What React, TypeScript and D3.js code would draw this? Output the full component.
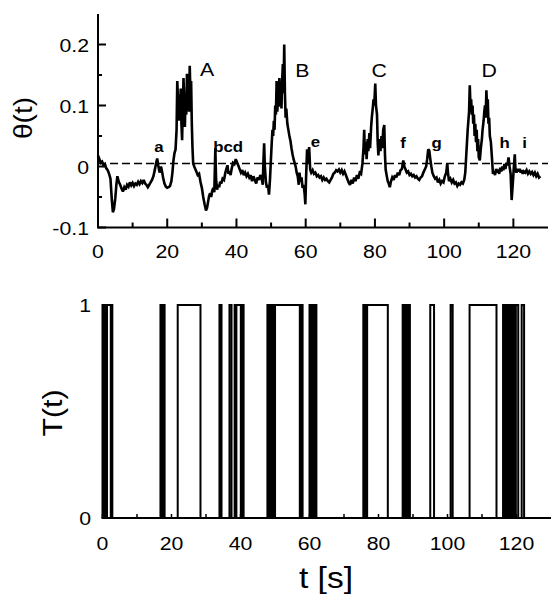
import React, { useRef, useEffect } from 'react'
import * as d3 from 'd3'

// theta(t): time [s], value
const theta: [number, number][] = [
  [0, 0.018], [0.4, 0.012], [0.8, 0.006], [1.2, 0.008], [1.6, 0.002], [2.0, 0.004], [2.4, -0.003],
  [2.8, -0.006], [3.2, -0.012], [3.6, -0.02], [4.0, -0.055], [4.3, -0.075], [4.6, -0.07], [5.0, -0.052],
  [5.3, -0.03], [5.6, -0.016], [6.0, -0.025], [6.4, -0.03], [6.8, -0.036], [7.2, -0.041], [7.6, -0.034],
  [8.0, -0.038], [8.4, -0.03], [8.8, -0.033], [9.2, -0.026], [9.6, -0.031], [10.0, -0.027], [10.4, -0.032],
  [10.8, -0.028], [11.2, -0.03], [11.6, -0.025], [12.0, -0.029], [12.4, -0.024], [12.8, -0.027],
  [13.2, -0.022], [13.6, -0.028], [14.0, -0.03], [14.4, -0.034], [14.8, -0.03], [15.2, -0.026],
  [15.6, -0.022], [16.0, -0.016], [16.4, -0.006], [16.8, 0.006], [17.1, 0.013], [17.4, 0.002],
  [17.8, -0.01], [18.2, 0.0], [18.5, -0.008], [18.8, -0.018], [19.2, -0.028], [19.6, -0.033],
  [20.0, -0.035], [20.4, -0.034], [20.8, -0.032], [21.2, -0.024], [21.5, -0.01], [21.8, 0.01],
  [22.1, 0.022], [22.4, 0.028], [22.7, 0.06], [22.9, 0.14], [23.1, 0.11], [23.3, 0.075], [23.5, 0.118],
  [23.7, 0.09], [23.9, 0.128], [24.1, 0.07], [24.3, 0.043], [24.5, 0.1], [24.7, 0.145], [24.9, 0.11],
  [25.1, 0.065], [25.3, 0.12], [25.5, 0.085], [25.7, 0.152], [25.9, 0.1], [26.1, 0.13], [26.3, 0.09],
  [26.5, 0.165], [26.7, 0.12], [26.9, 0.14], [27.1, 0.07], [27.3, 0.03], [27.5, 0.005], [27.8, 0.0],
  [28.1, -0.004], [28.4, -0.008], [28.8, -0.014], [29.2, -0.012], [29.6, -0.025], [30.0, -0.035],
  [30.4, -0.05], [30.8, -0.062], [31.2, -0.072], [31.5, -0.068], [31.8, -0.058], [32.1, -0.048],
  [32.4, -0.044], [32.7, -0.05], [33.0, -0.04], [33.3, -0.035], [33.6, -0.042], [33.9, 0.03],
  [34.1, -0.02], [34.4, -0.038], [34.7, -0.03], [35.0, -0.034], [35.3, -0.025], [35.6, -0.028],
  [36.0, -0.02], [36.4, -0.022], [36.8, -0.01], [37.1, -0.004], [37.4, 0.002], [37.7, -0.012],
  [38.0, -0.008], [38.3, -0.014], [38.6, -0.004], [39.0, 0.006], [39.4, 0.004], [39.8, 0.012],
  [40.1, 0.008], [40.5, 0.002], [40.9, -0.004], [41.3, -0.01], [41.7, -0.006], [42.1, -0.014],
  [42.5, -0.01], [42.9, -0.016], [43.3, -0.012], [43.7, -0.018], [44.1, -0.014], [44.5, -0.024],
  [44.9, -0.016], [45.3, -0.022], [45.7, -0.028], [46.1, -0.018], [46.5, -0.022], [46.9, -0.014],
  [47.3, -0.02], [47.6, -0.03], [47.8, 0.01], [48.0, 0.038], [48.2, 0.0], [48.5, -0.025], [48.8, -0.035],
  [49.1, -0.03], [49.4, -0.046], [49.7, -0.02], [49.9, 0.005], [50.2, 0.04], [50.4, 0.06], [50.6, 0.05],
  [50.8, 0.075], [51.0, 0.06], [51.2, 0.1], [51.4, 0.085], [51.6, 0.14], [51.8, 0.09], [52.0, 0.115],
  [52.2, 0.098], [52.4, 0.145], [52.6, 0.11], [52.8, 0.125], [53.0, 0.095], [53.2, 0.14], [53.4, 0.168],
  [53.6, 0.12], [53.8, 0.2], [54.0, 0.12], [54.2, 0.08], [54.4, 0.095], [54.7, 0.07], [55.0, 0.06],
  [55.3, 0.05], [55.6, 0.042], [55.9, 0.03], [56.2, 0.02], [56.5, 0.012], [56.8, 0.006], [57.1, 0.0],
  [57.4, -0.01], [57.7, -0.016], [58.0, -0.03], [58.2, -0.01], [58.5, -0.025], [58.8, -0.018],
  [59.1, -0.035], [59.4, -0.03], [59.7, -0.045], [59.9, -0.062], [60.1, -0.02], [60.4, 0.028],
  [60.7, 0.005], [61.0, 0.032], [61.3, -0.005], [61.6, -0.01], [62.0, -0.006], [62.4, -0.012],
  [62.8, -0.01], [63.2, -0.016], [63.6, -0.014], [64.0, -0.018], [64.4, -0.016], [64.8, -0.022],
  [65.2, -0.018], [65.6, -0.022], [66.0, -0.02], [66.4, -0.024], [66.8, -0.026], [67.2, -0.022],
  [67.6, -0.018], [68.0, -0.012], [68.4, -0.01], [68.8, -0.006], [69.2, -0.008], [69.6, -0.005],
  [70.0, -0.01], [70.4, -0.006], [70.8, -0.012], [71.2, -0.008], [71.6, -0.014], [72.0, -0.02],
  [72.4, -0.026], [72.8, -0.03], [73.2, -0.022], [73.6, -0.028], [74.0, -0.018], [74.4, -0.024],
  [74.8, -0.014], [75.2, -0.02], [75.6, -0.01], [76.0, -0.012], [76.4, 0.005], [76.7, 0.03],
  [76.9, 0.06], [77.1, 0.02], [77.4, 0.04], [77.6, 0.012], [77.9, 0.045], [78.1, 0.025], [78.4, 0.055],
  [78.6, 0.03], [78.9, 0.065], [79.1, 0.08], [79.4, 0.097], [79.6, 0.11], [79.8, 0.1], [80.1, 0.136],
  [80.3, 0.1], [80.6, 0.085], [80.8, 0.04], [81.0, 0.018], [81.3, 0.045], [81.6, 0.025], [81.9, 0.05],
  [82.1, 0.03], [82.4, 0.06], [82.7, 0.068], [82.9, 0.02], [83.1, -0.005], [83.4, -0.015],
  [83.7, -0.024], [84.0, -0.028], [84.3, -0.034], [84.6, -0.025], [85.0, -0.018], [85.4, -0.022],
  [85.8, -0.014], [86.2, -0.018], [86.6, -0.01], [87.0, -0.014], [87.4, -0.006], [87.8, -0.004],
  [88.2, 0.01], [88.5, 0.0], [88.8, -0.004], [89.2, -0.01], [89.6, -0.008], [90.0, -0.014],
  [90.4, -0.012], [90.8, -0.016], [91.2, -0.014], [91.6, -0.018], [92.0, -0.016], [92.4, -0.02],
  [92.8, -0.022], [93.2, -0.018], [93.6, -0.016], [94.0, -0.01], [94.4, -0.005], [94.8, 0.0],
  [95.1, 0.012], [95.4, 0.028], [95.7, 0.026], [96.0, 0.012], [96.3, 0.0], [96.6, -0.01], [97.0, -0.016],
  [97.4, -0.02], [97.8, -0.018], [98.2, -0.026], [98.6, -0.022], [99.0, -0.028], [99.4, -0.024],
  [99.8, -0.026], [100.2, -0.016], [100.6, -0.01], [100.9, 0.005], [101.1, -0.01], [101.4, -0.024],
  [101.8, -0.02], [102.2, -0.026], [102.6, -0.022], [103.0, -0.028], [103.4, -0.026], [103.8, -0.032],
  [104.2, -0.028], [104.6, -0.03], [105.0, -0.026], [105.4, -0.028], [105.8, -0.022], [106.1, -0.01],
  [106.4, 0.02], [106.6, 0.04], [106.8, 0.06], [107.0, 0.075], [107.2, 0.09], [107.4, 0.133],
  [107.6, 0.1], [107.8, 0.11], [108.0, 0.085], [108.2, 0.1], [108.4, 0.07], [108.6, 0.085],
  [108.8, 0.05], [109.0, 0.07], [109.2, 0.04], [109.4, 0.06], [109.6, 0.025], [109.8, 0.045],
  [110.0, 0.015], [110.3, 0.01], [110.6, 0.03], [110.9, 0.045], [111.1, 0.06], [111.4, 0.075],
  [111.6, 0.09], [111.8, 0.1], [112.0, 0.08], [112.2, 0.125], [112.4, 0.095], [112.6, 0.11],
  [112.8, 0.07], [113.0, 0.08], [113.2, 0.05], [113.5, 0.04], [113.8, 0.015], [114.1, -0.012],
  [114.4, -0.008], [114.7, -0.014], [115.0, -0.004], [115.3, -0.01], [115.6, -0.005], [115.9, -0.012],
  [116.2, -0.002], [116.5, -0.008], [116.8, 0.0], [117.1, -0.006], [117.4, 0.004], [117.7, -0.004],
  [118.0, 0.006], [118.3, 0.002], [118.6, 0.015], [118.9, 0.0], [119.2, -0.012], [119.5, -0.055],
  [119.8, -0.03], [120.1, -0.004], [120.4, 0.02], [120.6, -0.005], [120.9, -0.01], [121.2, -0.004],
  [121.5, -0.008], [121.8, -0.004], [122.1, -0.01], [122.4, -0.006], [122.7, -0.012], [123.0, -0.008],
  [123.4, -0.01], [123.8, -0.006], [124.2, -0.012], [124.6, -0.008], [125.0, -0.012], [125.4, -0.009],
  [125.8, -0.014], [126.2, -0.01], [126.6, -0.016], [127.0, -0.012], [127.4, -0.018], [127.8, -0.016],
]

const thetaThreshold = 0.005

// T(t) = 1 during these intervals [start, end]
const pulses: [number, number][] = [
  [0.0, 2.4], [2.55, 2.85],
  [16.8, 18.0],
  [21.8, 28.4],
  [33.9, 34.5],
  [36.8, 37.4],
  [38.3, 40.9],
  [47.8, 58.0],
  [60.0, 62.0],
  [75.6, 82.7],
  [87.0, 89.1],
  [95.0, 96.1],
  [100.9, 101.5],
  [106.4, 114.2],
  [116.1, 120.5],
  [121.5, 122.2],
]

// stretches where T(t) switches faster than the plot resolves
const bursts: [number, number][] = [
  [0.0, 1.6], [16.8, 18.0], [33.9, 34.5], [38.3, 39.1], [39.8, 40.9], [47.8, 50.3], [56.9, 58.0],
  [60.0, 62.0], [75.6, 77.0], [87.0, 89.1], [116.1, 120.1],
]

const timeTicks = [0, 20, 40, 60, 80, 100, 120]
const timeMinorTicks = [10, 30, 50, 70, 90, 110]
const thetaTicks = [-0.1, 0, 0.1, 0.2]
const thetaMinorTicks = [-0.05, 0.05, 0.15]
const stateTicks = [0, 1]

// event labels, placed at (time, theta)
const peakLabels = ['A', 'B', 'C', 'D']
const peakTimes = [31.5, 59, 81.2, 113]
const peakValues = [0.148, 0.147, 0.147, 0.147]
const minorLabels = ['a', 'bcd', 'e', 'f', 'g', 'h', 'i']
const minorTimes = [17.6, 37.6, 62.8, 88.1, 97.8, 117.5, 123.2]
const minorValues = [0.023, 0.023, 0.032, 0.03, 0.03, 0.03, 0.03]

const FONT = "'Liberation Sans', Arial, Helvetica, sans-serif"
const SX = 1.12

export default function App() {
  const ref = useRef<SVGSVGElement>(null)

  useEffect(() => {
    const svg = d3.select(ref.current)
    svg.selectAll('*').remove()
    drawChart(svg)
  }, [])

  function label(g: any, x: number, y: number, txt: string, size: number, anchor: string, weight = 'normal', rotate = 0) {
    g.append('text')
      .attr('transform', `translate(${x},${y}) rotate(${rotate}) scale(${SX},1)`)
      .attr('text-anchor', anchor)
      .attr('font-family', FONT)
      .attr('font-size', size)
      .attr('font-weight', weight)
      .attr('fill', '#000')
      .text(txt)
  }

  function drawChart(svg: any) {
    // ---------- top panel: theta(t)
    const x = d3.scaleLinear().domain([0, 130]).range([98, 548])
    const y = d3.scaleLinear().domain([-0.1, 0.25]).range([227.5, 14])

    const top = svg.append('g')

    // dashed threshold
    top.append('line')
      .attr('x1', x(0)).attr('x2', x(130))
      .attr('y1', y(thetaThreshold)).attr('y2', y(thetaThreshold))
      .attr('stroke', '#000').attr('stroke-width', 1.5)
      .attr('stroke-dasharray', '8,4')

    const line = d3.line<[number, number]>()
      .x((d) => x(d[0]))
      .y((d) => y(d[1]))

    top.append('path')
      .datum(theta)
      .attr('d', line)
      .attr('fill', 'none')
      .attr('stroke', '#000')
      .attr('stroke-width', 2.6)
      .attr('stroke-linejoin', 'miter')
      .attr('stroke-miterlimit', 2.5)

    // axes
    top.append('line')
      .attr('x1', x(0)).attr('x2', x(0)).attr('y1', y(0.25)).attr('y2', y(-0.1))
      .attr('stroke', '#000').attr('stroke-width', 2)
    top.append('line')
      .attr('x1', x(0) - 1).attr('x2', x(130)).attr('y1', y(-0.1)).attr('y2', y(-0.1))
      .attr('stroke', '#000').attr('stroke-width', 2)

    timeTicks.forEach((t) => {
      top.append('line').attr('x1', x(t)).attr('x2', x(t))
        .attr('y1', y(-0.1)).attr('y2', y(-0.1) - 9)
        .attr('stroke', '#000').attr('stroke-width', 2)
      label(top, x(t), 258, String(t), 19, 'middle')
    })
    timeMinorTicks.forEach((t) => {
      top.append('line').attr('x1', x(t)).attr('x2', x(t))
        .attr('y1', y(-0.1)).attr('y2', y(-0.1) - 5)
        .attr('stroke', '#000').attr('stroke-width', 2)
    })
    thetaTicks.forEach((v) => {
      top.append('line').attr('x1', x(0)).attr('x2', x(0) + 8)
        .attr('y1', y(v)).attr('y2', y(v))
        .attr('stroke', '#000').attr('stroke-width', 2)
      label(top, 89, y(v) + 7, String(v), 19, 'end')
    })
    thetaMinorTicks.forEach((v) => {
      top.append('line').attr('x1', x(0)).attr('x2', x(0) + 4)
        .attr('y1', y(v)).attr('y2', y(v))
        .attr('stroke', '#000').attr('stroke-width', 2)
    })

    label(top, 32, 118, 'θ(t)', 25, 'middle', 'normal', -90)

    peakLabels.forEach((s, i) => label(top, x(peakTimes[i]), y(peakValues[i]), s, 19, 'middle'))
    minorLabels.forEach((s, i) => label(top, x(minorTimes[i]), y(minorValues[i]), s, 15, 'middle', 'bold'))

    // ---------- bottom panel: T(t)
    const xb = d3.scaleLinear().domain([0, 130]).range([102.5, 551])
    const yb = d3.scaleLinear().domain([0, 1]).range([518, 305])

    const bottom = svg.append('g')

    bottom.append('g')
      .selectAll('rect')
      .data(bursts)
      .join('rect')
      .attr('x', (d: [number, number]) => xb(d[0]))
      .attr('y', yb(1))
      .attr('width', (d: [number, number]) => xb(d[1]) - xb(d[0]))
      .attr('height', yb(0) - yb(1))
      .attr('fill', '#000')

    const steps: [number, number][] = []
    pulses.forEach(([s, e]) => {
      steps.push([s, 0], [s, 1], [e, 1], [e, 0])
    })
    const stepLine = d3.line<[number, number]>()
      .x((d) => xb(d[0]))
      .y((d) => yb(d[1]))

    bottom.append('path')
      .datum(steps)
      .attr('d', stepLine)
      .attr('fill', 'none')
      .attr('stroke', '#000')
      .attr('stroke-width', 2)
      .attr('stroke-linejoin', 'miter')

    bottom.append('line')
      .attr('x1', xb(0) - 1).attr('x2', xb(130)).attr('y1', yb(0)).attr('y2', yb(0))
      .attr('stroke', '#000').attr('stroke-width', 2)

    timeTicks.concat(timeMinorTicks).forEach((t) => {
      bottom.append('line').attr('x1', xb(t)).attr('x2', xb(t))
        .attr('y1', yb(0)).attr('y2', yb(0) - 4)
        .attr('stroke', '#000').attr('stroke-width', 1.5)
    })
    timeTicks.forEach((t) => label(bottom, xb(t), 550, String(t), 19, 'middle'))
    stateTicks.forEach((v) => label(bottom, 91, yb(v) + 7, String(v), 19, 'end'))

    label(bottom, 62, 413, 'T(t)', 27, 'middle', 'normal', -90)
    label(bottom, 326, 588, 't [s]', 30, 'middle')
  }

  return (
    <svg
      ref={ref}
      width={554}
      height={606}
      style={{ position: 'absolute', left: 0, top: 0, background: '#fff', display: 'block' }}
    ></svg>
  )
}
